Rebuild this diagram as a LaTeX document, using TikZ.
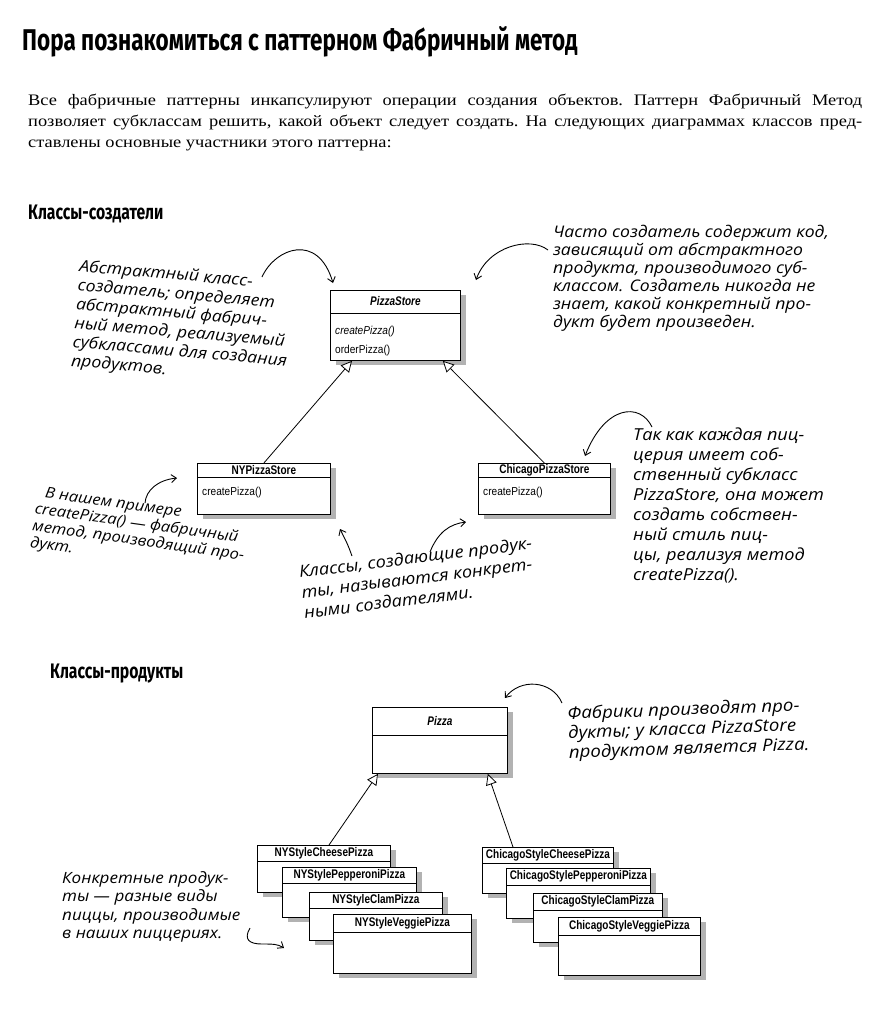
\documentclass[tikz,border=0pt]{standalone}
\usepackage{fontspec}
\setmainfont{Liberation Serif}
\newfontfamily\bodyfont{Liberation Serif}[FakeStretch=1.15]
\newfontfamily\titlefont{Fira Sans}[FakeStretch=0.75]
\newfontfamily\handfont{Open Sans}[FakeStretch=1.1]
\newfontfamily\umlfont{Liberation Sans}[FakeStretch=0.88]
\newfontfamily\umlnarrow{Liberation Sans}[FakeStretch=0.8]
\usetikzlibrary{arrows.meta,shadows,calc}
\tikzset{
  umlbox/.style={draw, fill=white, line width=0.8pt, anchor=north west, inner sep=0pt,
    drop shadow={shadow xshift=6pt, shadow yshift=-5pt, fill=black!30, opacity=1}},
  umltitle/.style={font=\umlnarrow\bfseries\fontsize{12.5}{14}\selectfont, inner sep=0pt},
  umlitem/.style={font=\umlfont\fontsize{11.5}{13}\selectfont, inner sep=0pt, anchor=west},
  note/.style={font=\handfont\itshape\fontsize{16}{19}\selectfont, align=left, inner sep=0pt, anchor=north west},
  heading/.style={font=\titlefont\bfseries\fontsize{21}{24}\selectfont, inner sep=0pt, anchor=base west},
  bodyline/.style={font=\bodyfont\frenchspacing\fontsize{16}{20}\selectfont, inner sep=0pt, anchor=base west},
  inh/.style={line width=0.8pt, -{Triangle[open, length=11pt, width=11pt, fill=white]}},
  hand/.style={line width=0.9pt, -{Straight Barb[length=5pt, width=8pt]}}
}
\newcommand{\umlclass}[7]{%
  % #1 name, #2 x, #3 y, #4 w, #5 h, #6 band, #7 title
  \node[umlbox, minimum width=#4pt, minimum height=#5pt] (#1) at (#2,#3) {};
  \draw[line width=0.7pt] ($(#1.north west)+(0,#6)$) -- ($(#1.north east)+(0,#6)$);
  \node[umltitle] (#1t) at ($(#1.north)+(0,#6/2)$) {#7};
}
\begin{document}
\begin{tikzpicture}[x=1pt, y=-1pt]
\fill[white] (0,0) rectangle (887,1013);
\useasboundingbox (0,0) rectangle (887,1013);

% title
\node[font=\titlefont\bfseries\fontsize{30}{34}\selectfont, inner sep=0pt, anchor=base west] (title) at (22,50) {Пора познакомиться с паттерном Фабричный метод};

% paragraph
\node[bodyline] (p1) at (28,105) {\makebox[834pt][s]{Все фабричные паттерны инкапсулируют операции создания объектов. Паттерн Фабричный Метод}};
\node[bodyline] (p2) at (28,126) {\makebox[834pt][s]{позволяет субклассам решить, какой объект следует создать. На следующих диаграммах классов пред-}};
\node[bodyline] (p3) at (28,147) {ставлены основные участники этого паттерна:};

% headings
\node[heading] (h1) at (28,219) {Классы-создатели};
\node[heading] (h2) at (50,678) {Классы-продукты};

% creator classes
\umlclass{ps}{330}{290}{130}{70}{23}{\itshape PizzaStore}
\node[umlitem] (psm1) at ($(ps.north west)+(5,42)$) {\itshape createPizza()};
\node[umlitem] (psm2) at ($(ps.north west)+(5,61)$) {orderPizza()};

\umlclass{ny}{197}{463}{133}{51}{14}{NYPizzaStore}
\node[umlitem] (nym) at ($(ny.north west)+(5,30)$) {createPizza()};

\umlclass{ch}{478}{463}{132}{51}{14}{ChicagoPizzaStore}
\node[umlitem] (chm) at ($(ch.north west)+(5,30)$) {createPizza()};

\draw[inh] (ny.north) -- ($(ps.south west)+(22,0)$);
\draw[inh] (ch.north) -- ($(ps.south east)+(-18,0)$);

% product classes
\umlclass{pz}{372}{707}{135}{66}{28}{\itshape Pizza}

\umlclass{nya}{257}{845}{133}{47}{16}{NYStyleCheesePizza}
\umlclass{nyb}{282}{867}{134}{50}{16}{NYStylePepperoniPizza}
\umlclass{nyc}{309}{892}{133}{48}{16}{NYStyleClamPizza}
\umlclass{nyd}{333}{914}{138}{59}{18}{NYStyleVeggiePizza}

\umlclass{cha}{482}{847}{131}{46}{16}{ChicagoStyleCheesePizza}
\umlclass{chb}{506}{868}{144}{50}{17}{ChicagoStylePepperoniPizza}
\umlclass{chc}{533}{893}{129}{49}{17}{ChicagoStyleClamPizza}
\umlclass{chd}{558}{917}{142}{58}{18}{ChicagoStyleVeggiePizza}

\draw[inh] ($(nya.north west)+(72,0)$) -- ($(pz.south west)+(6,0)$);
\draw[inh] ($(cha.north west)+(31,0)$) -- ($(pz.south east)+(-20,0)$);

% notes
\node[note, rotate=-5] (n1) at (80,259) {Абстрактный класс-\\создатель; определяет\\абстрактный фабрич-\\ный метод, реализуемый\\субклассами для создания\\продуктов.};
\node[note, font=\handfont\itshape\fontsize{16}{18}\selectfont] (n2) at (553,225) {Часто создатель содержит код,\\зависящий от абстрактного\\продукта, производимого суб-\\классом. Создатель никогда не\\знает, какой конкретный про-\\дукт будет произведен.};
\node[note, rotate=-8, font=\handfont\itshape\fontsize{15}{17}\selectfont] (n3) at (38,486) {\hspace*{8pt}В нашем примере\\createPizza() — фабричный\\метод, производящий про-\\дукт.};
\node[note, rotate=7, font=\handfont\itshape\fontsize{16.5}{20.5}\selectfont] (n4) at (298,565) {Классы, создающие продук-\\ты, называются конкрет-\\ными создателями.};
\node[note, font=\handfont\itshape\fontsize{16.5}{20}\selectfont] (n5) at (633,428) {Так как каждая пиц-\\церия имеет соб-\\ственный субкласс\\PizzaStore, она может\\создать собствен-\\ный стиль пиц-\\цы, реализуя метод\\createPizza().};
\node[note, rotate=2, font=\handfont\itshape\fontsize{17}{19.5}\selectfont] (n6) at (567,706) {Фабрики производят про-\\дукты; у класса PizzaStore\\продуктом является Pizza.};
\node[note, font=\handfont\itshape\fontsize{15.5}{18.5}\selectfont] (n7) at (62,871) {Конкретные продук-\\ты — разные виды\\пиццы, производимые\\в наших пиццериях.};

% annotation arrows
\coordinate (a1s) at (262,277); \coordinate (a1e) at (333,283);
\draw[hand] (a1s) .. controls (275,248) and (318,232) .. (a1e);
\coordinate (a2s) at (548,250); \coordinate (a2e) at (476,280);
\draw[hand] (a2s) .. controls (530,236) and (488,246) .. (a2e);
\coordinate (a3s) at (145,503); \coordinate (a3e) at (177,478);
\draw[hand] (a3s) .. controls (146,490) and (158,480) .. (a3e);
\coordinate (a4s) at (352,556); \coordinate (a4e) at (340,529);
\draw[hand] (a4s) .. controls (348,545) .. (a4e);
\coordinate (a5s) at (430,552); \coordinate (a5e) at (466,522);
\draw[hand] (a5s) .. controls (438,532) and (450,524) .. (a5e);
\coordinate (a6s) at (652,427); \coordinate (a6e) at (585,456);
\draw[hand] (a6s) .. controls (640,402) and (605,405) .. (a6e);
\coordinate (a7s) at (562,703); \coordinate (a7e) at (505,698);
\draw[hand] (a7s) .. controls (552,680) and (520,678) .. (a7e);
\coordinate (a8s) at (250,928); \coordinate (a8e) at (284,948);
\draw[hand] (a8s) .. controls (243,940) and (250,944) .. (262,944) .. controls (272,944) and (278,944) .. (a8e);
\end{tikzpicture}
\end{document}
